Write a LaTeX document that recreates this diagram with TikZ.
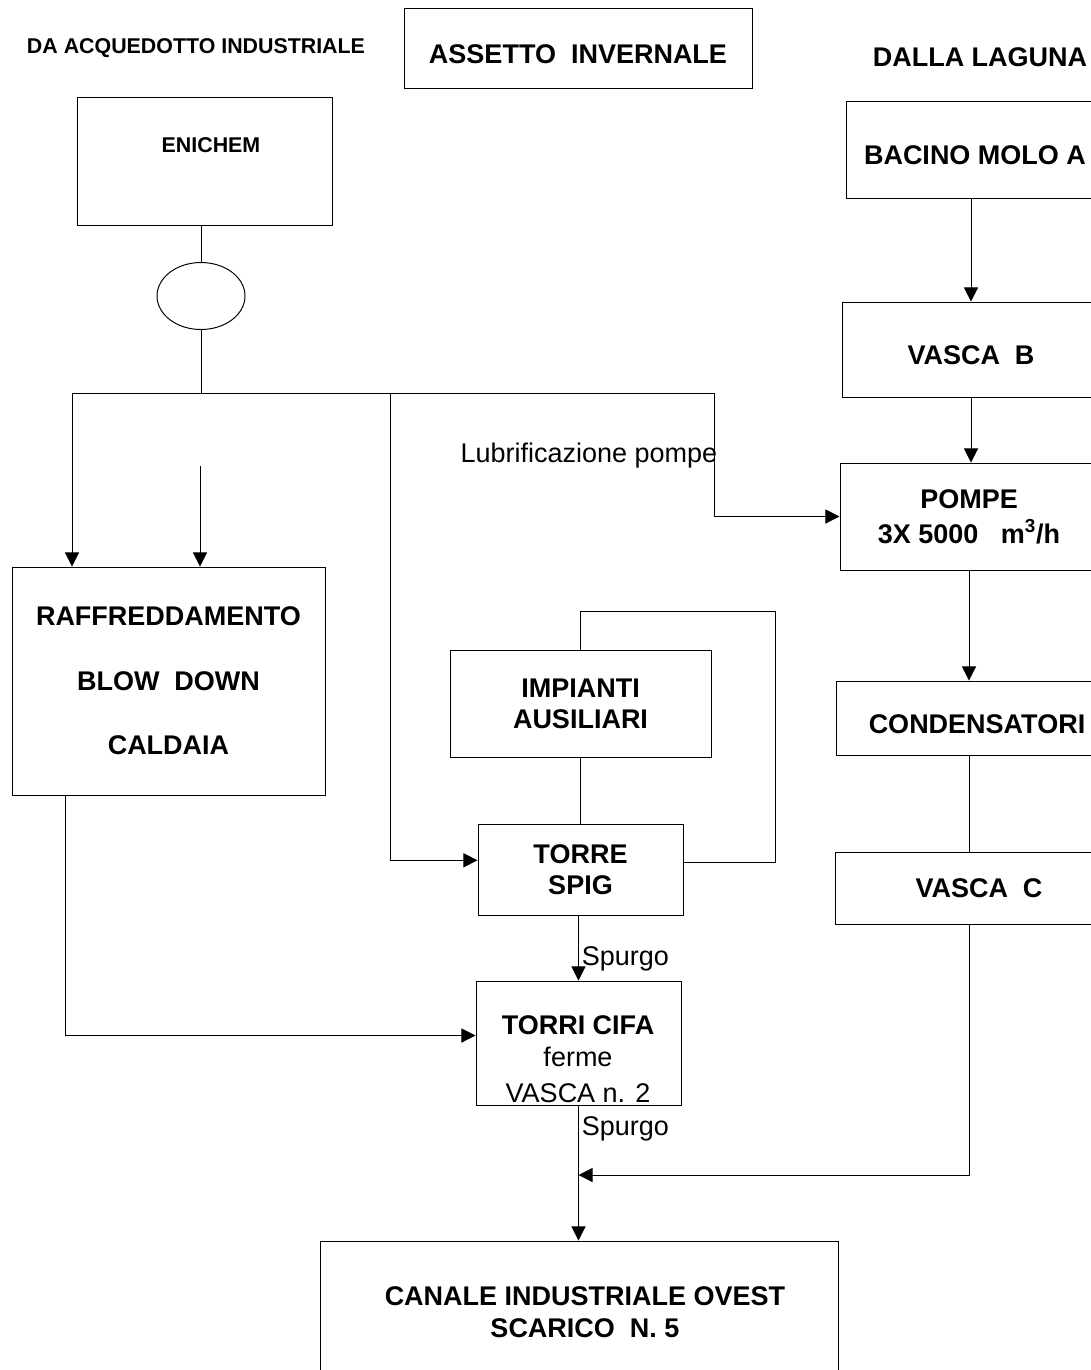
\documentclass[tikz,border=0pt]{standalone}
\usepackage{fontspec}
\setmainfont{Liberation Sans}
\usetikzlibrary{arrows.meta,shapes.geometric,calc}
\newcommand{\boxfont}{\bfseries\fontsize{19.2pt}{22pt}\selectfont}
\newcommand{\smallboxfont}{\bfseries\fontsize{15.2pt}{18pt}\selectfont}
\newcommand{\plainfont}{\mdseries\fontsize{19.2pt}{22pt}\selectfont}

\begin{document}
\begin{tikzpicture}[x=0.025cm,y=-0.025cm,line width=0.7pt,
	blk/.style={draw,inner sep=0pt,align=center,font=\boxfont},
	low/.style={text height=21.5pt,text depth=0pt},
	dim/.style n args={2}{minimum width=#1*0.025cm,minimum height=#2*0.025cm},
	txt/.style={inner sep=0pt,align=center,font=\boxfont},
	arr/.style={-{Triangle[length=10pt,width=10pt]}}]
	\useasboundingbox (0,0) rectangle (1091,1370);

	\node[txt,font=\smallboxfont] (acq) at (196,48) {DA ACQUEDOTTO INDUSTRIALE};
	\node[blk,low,dim={348}{80}] (title) at (578,48) {ASSETTO\ \ INVERNALE};
	\node[txt] (laguna) at (980,57) {DALLA LAGUNA};

	\node[blk,dim={255}{128}] (enichem) at (204.5,161) {};
	\node[txt,font=\smallboxfont] (enichemtxt) at (211,145) {ENICHEM};
	\node[draw,ellipse,inner sep=0pt,dim={88}{67}] (valve) at (201,296) {};

	\node[blk,low,dim={258}{97}] (bacino) at (975,149.5) {BACINO MOLO A};
	\node[blk,low,dim={258}{95}] (vascab) at (971,349.5) {VASCA\ \ B};
	\node[blk,dim={258}{107}] (pompe) at (969,516.5) {POMPE\\[3pt]3X 5000\ \ \ m\textsuperscript{3}/h};
	\node[blk,low,dim={282}{74}] (cond) at (977,718) {CONDENSATORI};
	\node[blk,dim={288}{72}] (vascac) at (979,888) {VASCA\ \ C};

	\node[blk,dim={313}{228}] (raff) at (168.5,681) {RAFFREDDAMENTO\\[24pt]BLOW\ \ DOWN\\[24pt]CALDAIA};
	\node[blk,dim={261}{107}] (imp) at (580.5,703.5) {IMPIANTI\\AUSILIARI};
	\node[blk,dim={205}{91}] (spig) at (580.5,869.5) {TORRE\\SPIG};
	\node[blk,dim={205}{124}] (cifa) at (578.5,1043) {};
	\node[txt] (cifatxt) at (578,1059) {TORRI CIFA\\[1pt]{\plainfont ferme}\\[3pt]{\plainfont VASCA n. 2}};
	\node[blk,dim={518}{160}] (canale) at (579,1321) {};
	\node[txt] (canaletxt) at (585,1312) {CANALE INDUSTRIALE OVEST\\[1pt]SCARICO\ \ N. 5};

	\node[txt,font=\plainfont] (lubri) at (589,456) {Lubrificazione pompe};

	\coordinate (jl) at (72,393);
	\coordinate (jm) at (390,393);
	\coordinate (jr) at (714,393);
	\coordinate (blow) at (200,466);
	\coordinate (loop) at (775,611);
	\coordinate (merge) at (578.5,1175);

	\draw (enichem.south -| valve.north) -- (valve.north);
	\draw (valve.south) -- (valve.south |- jl);
	\draw[arr] (jl) -- (jl |- raff.north);
	\draw[arr] (jl) -- (jr) |- (pompe.west);
	\draw[arr] (jm) |- ($(spig.north west)!0.4!(spig.south west)$);
	\draw[arr] (blow) -- (blow |- raff.north);
	\draw[arr] ($(raff.south west)+(54,0)$) |- ($(cifa.north west)!0.44!(cifa.south west)$);
	\draw (imp.south) -- (spig.north);
	\draw ($(spig.north east)!0.42!(spig.south east)$) -| (loop) -| (imp.north);
	\draw[arr] (cifa.north |- spig.south) to node[pos=0.67,anchor=west,inner sep=2pt,font=\plainfont] (spurgoa) {Spurgo} (cifa.north);
	\draw[arr] (cifa.south) to node[pos=0.17,anchor=west,inner sep=2pt,font=\plainfont] (spurgob) {Spurgo} (cifa.south |- canale.north);

	\draw[arr] (bacino.south -| vascab.north) -- (vascab.north);
	\draw[arr] (vascab.south) -- (vascab.south |- pompe.north);
	\draw[arr] (pompe.south) -- (pompe.south |- cond.north);
	\draw (pompe.south |- cond.south) -- (pompe.south |- vascac.north);
	\draw[arr] (pompe.south |- vascac.south) |- (merge);
\end{tikzpicture}
\end{document}
